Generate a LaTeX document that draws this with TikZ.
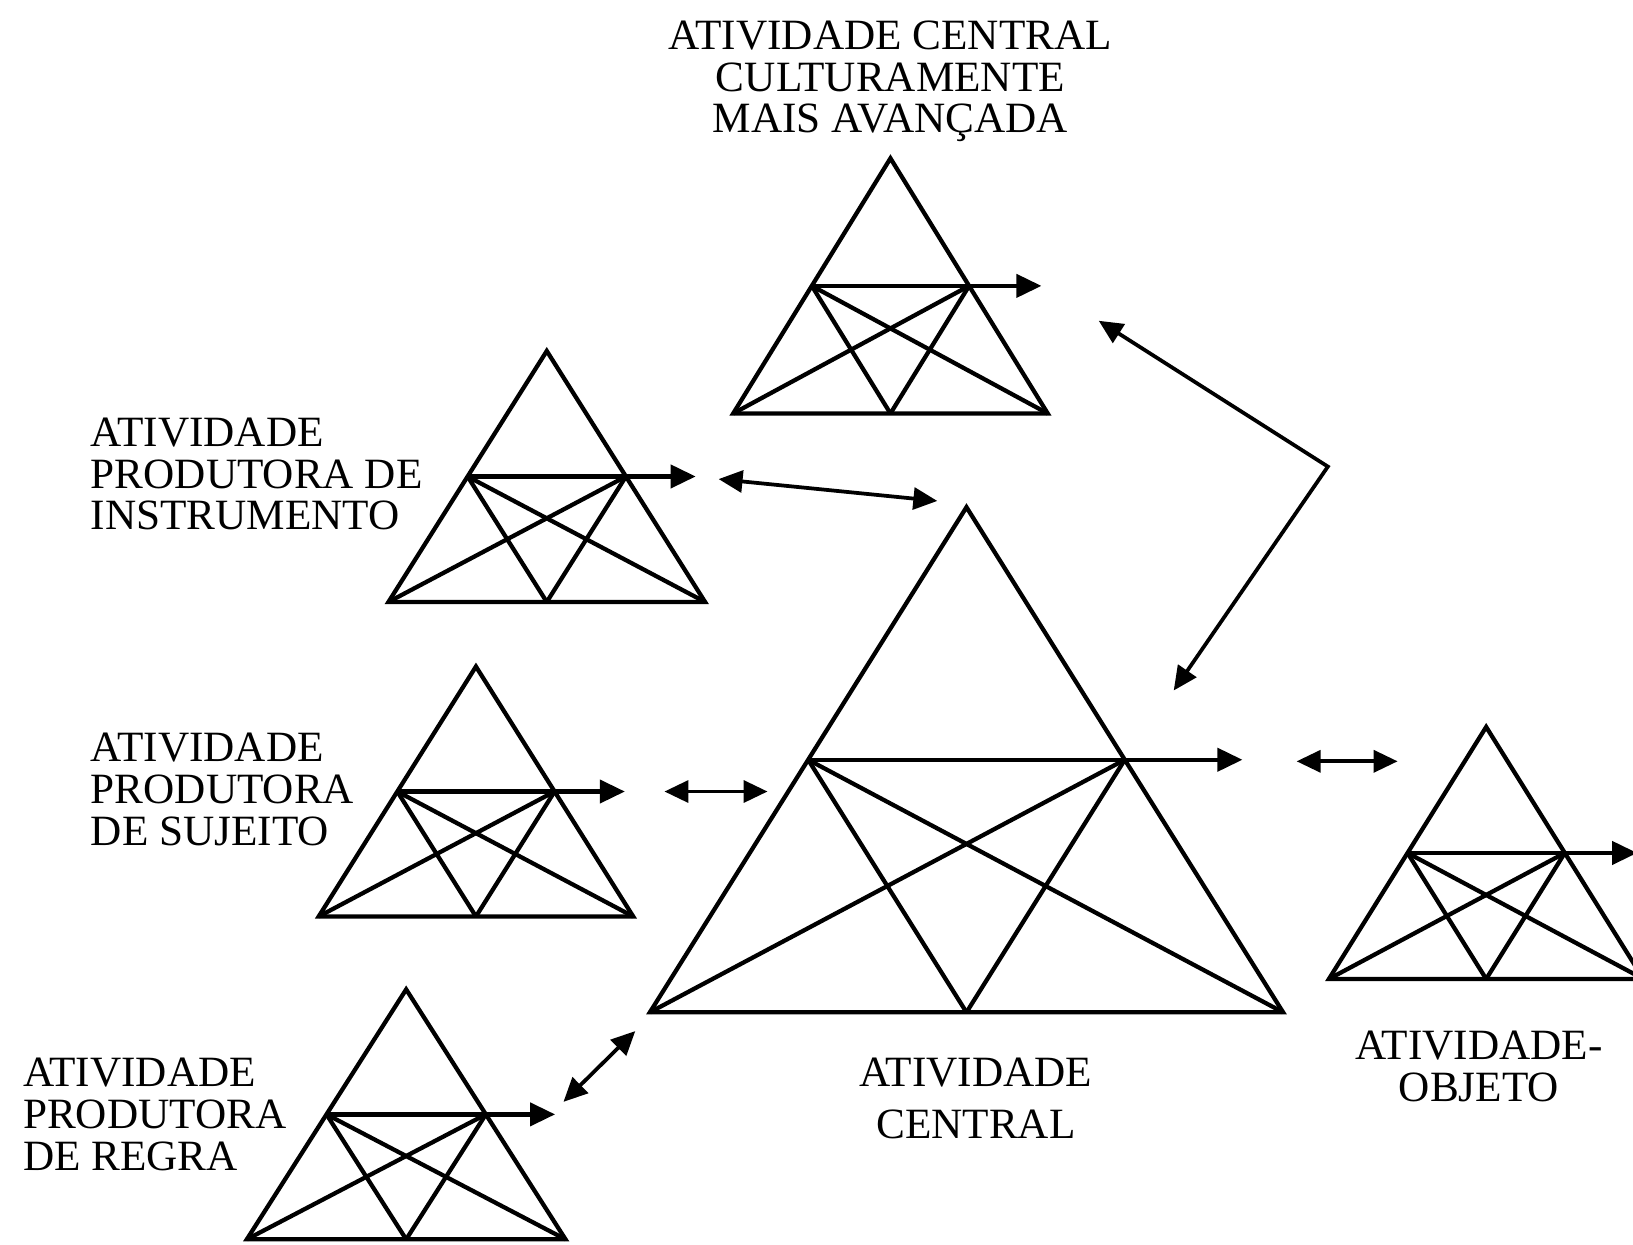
\documentclass[tikz,border=0pt]{standalone}
\usepackage{fontspec}
\setmainfont{Liberation Serif}
\usetikzlibrary{arrows.meta,calc}
\tikzset{
  tri/.style={line width=4.1pt, line join=miter},
  midarrow/.style={line width=4.1pt, -{Triangle[length=24pt,width=22pt]}},
  twoway/.style={line width=3.6pt, {Triangle[length=23pt,width=21pt]}-{Triangle[length=23pt,width=21pt]}},
  lbl/.style={inner sep=0pt, font=\fontsize{41.5}{40}\selectfont},
}
% #1 name, #2 apex x, #3 apex y, #4 base y, #5 half base, #6 arrow tip x
\newcommand{\ActTri}[6]{%
  \coordinate (#1-top) at (#2,#3);
  \coordinate (#1-bl) at (#2-#5,#4);
  \coordinate (#1-br) at (#2+#5,#4);
  \coordinate (#1-bm) at (#2,#4);
  \coordinate (#1-l) at ($(#1-top)!0.5!(#1-bl)$);
  \coordinate (#1-r) at ($(#1-top)!0.5!(#1-br)$);
  \coordinate (#1-tip) at (#6,{(#3+#4)/2});
  \draw[tri] (#1-top) -- (#1-br) -- (#1-bl) -- cycle;
  \draw[tri] (#1-l) -- (#1-r);
  \draw[tri] (#1-l) -- (#1-br);
  \draw[tri] (#1-l) -- (#1-bm);
  \draw[tri] (#1-r) -- (#1-bl);
  \draw[tri] (#1-r) -- (#1-bm);
  \draw[midarrow] (#1-r) -- (#1-tip);
}
\begin{document}
\begin{tikzpicture}[x=1pt,y=-1pt]
\useasboundingbox (0,0) rectangle (1568,1195);
\clip (0,0) rectangle (1568,1195);
\fill[white] (0,0) rectangle (1568,1195);

\ActTri{top}{855}{152}{397}{151}{1000}
\ActTri{ins}{525}{337}{578}{152}{668}
\ActTri{suj}{457}{640}{880}{151}{600}
\ActTri{reg}{390}{950}{1190}{153}{533}
\ActTri{cen}{928}{487}{972}{304}{1193}
\ActTri{obj}{1427}{698}{940}{151}{1572}

% connectors
\coordinate (a1) at (690,460);
\coordinate (a2) at (900,481);
\draw[twoway] (a1) -- (a2);
\coordinate (b1) at (638,760);
\coordinate (b2) at (737,760);
\draw[twoway] (b1) -- (b2);
\coordinate (c1) at (541,1058);
\coordinate (c2) at (610,990);
\draw[twoway] (c1) -- (c2);
\coordinate (d1) at (1245,731);
\coordinate (d2) at (1342,731);
\draw[twoway] (d1) -- (d2);
\coordinate (e1) at (1055,308);
\coordinate (ec) at (1275,448);
\coordinate (e2) at (1127,663);
\draw[twoway, line join=miter] (e1) -- (ec) -- (e2);

% labels
\node[lbl, anchor=north, align=center] (ltop) at (855,20) {ATIVIDADE CENTRAL\\CULTURAMENTE\\MAIS AVANÇADA};
\node[lbl, anchor=north west, align=left] (lins) at (87,401) {ATIVIDADE\\PRODUTORA DE\\INSTRUMENTO};
\node[lbl, anchor=north west, align=left] (lsuj) at (87,704) {ATIVIDADE\\PRODUTORA\\DE SUJEITO};
\node[lbl, anchor=north west, align=left] (lreg) at (22,1016) {ATIVIDADE\\PRODUTORA\\DE REGRA};
\node[lbl, anchor=north, align=center, font=\fontsize{41.5}{50}\selectfont] (lcen) at (937,1016) {ATIVIDADE\\CENTRAL};
\node[lbl, anchor=north, align=center] (lobj) at (1420,990) {ATIVIDADE-\\OBJETO};
\end{tikzpicture}
\end{document}
